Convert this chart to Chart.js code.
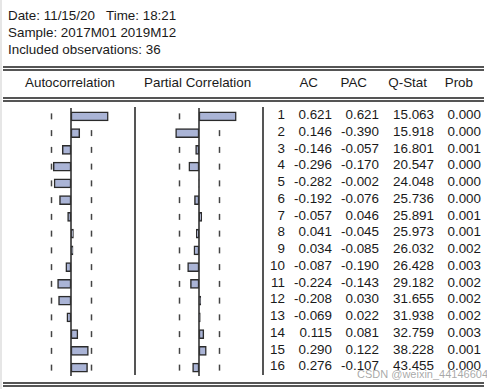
<!DOCTYPE html>
<html>
<head>
<meta charset="utf-8">
<script src="https://cdn.jsdelivr.net/npm/chart.js@4/dist/chart.umd.min.js"></script>
<style>
  body { margin: 0; background: #fff; }
  #page { position: relative; width: 487px; height: 389px; overflow: hidden;
          font-family: "Liberation Sans", Arial, sans-serif; font-size: 13.4px; color: #1a1a1a; }
  .abs { position: absolute; white-space: nowrap; line-height: 17px; }
  .dbl { position: absolute; left: 3px; width: 481px; height: 1px;
         border-top: 2px solid #555; border-bottom: 2px solid #555; }
  .vline { position: absolute; top: 107px; height: 268px; width: 0; border-left: 2px solid #555; }
  .chartbox { position: absolute; top: 108px; width: 120px; height: 268px; }
  .r { text-align: right; }
  #edge { position: absolute; left: 0; top: 0; width: 2px; height: 389px; background: #e6e6e6; }
  #wm { position: absolute; left: 357px; top: 366px; font-size: 11px; color: rgba(140,140,140,0.75);
        line-height: 16px; white-space: nowrap; }
</style>
</head>
<body>
<div id="page">
  <div id="edge"></div>
  <div class="abs" style="left:8px;top:7px">Date: 11/15/20&nbsp;&nbsp;&nbsp;Time: 18:21</div>
  <div class="abs" style="left:8px;top:24px">Sample: 2017M01 2019M12</div>
  <div class="abs" style="left:8px;top:41px">Included observations: 36</div>

  <div class="dbl" style="top:66px"></div>
  <div class="abs" style="left:25px;top:74px">Autocorrelation</div>
  <div class="abs" style="left:144px;top:74px">Partial Correlation</div>
  <div class="abs r" style="right:169px;top:74px">AC</div>
  <div class="abs r" style="right:120px;top:74px">PAC</div>
  <div class="abs r" style="right:60px;top:74px">Q-Stat</div>
  <div class="abs r" style="right:14px;top:74px">Prob</div>
  <div class="dbl" style="top:97px"></div>

  <div class="vline" style="left:134px"></div>
  <div class="vline" style="left:262px"></div>

  <div class="chartbox" style="left:11px"><canvas id="acChart" width="120" height="268"></canvas></div>
  <div class="chartbox" style="left:139px"><canvas id="pacChart" width="120" height="268"></canvas></div>

  <div id="table"></div>
  <div id="wm">CSDN @weixin_44146604</div>

  <div class="dbl" style="top:382px"></div>
</div>

<script>
// Correlogram values
const lags = [1, 2, 3, 4, 5, 6, 7, 8, 9, 10, 11, 12, 13, 14, 15, 16];
const acValues = [0.621, 0.146, -0.146, -0.296, -0.282, -0.192, -0.057, 0.041, 0.034, -0.087, -0.224, -0.208, -0.069, 0.115, 0.290, 0.276];
const pacValues = [0.621, -0.390, -0.057, -0.170, -0.002, -0.076, 0.046, -0.045, -0.085, -0.190, -0.143, 0.030, 0.022, 0.081, 0.122, -0.107];
const qStat = [15.063, 15.918, 16.801, 20.547, 24.048, 25.736, 25.891, 25.973, 26.032, 26.428, 29.182, 31.655, 31.938, 32.759, 38.228, 43.455];
const prob = [0.000, 0.000, 0.001, 0.000, 0.000, 0.000, 0.001, 0.001, 0.002, 0.003, 0.002, 0.002, 0.002, 0.003, 0.001, 0.000];
const observations = 36;
const bound = 2 / Math.sqrt(observations);

// Dashed +-2/sqrt(n) marks behind the bars, zero line on top
const bandPlugin = {
    id: 'band',
    beforeDatasetsDraw(chart) {
        const ctx = chart.ctx;
        const x = chart.scales.x;
        const y = chart.scales.y;
        ctx.save();
        ctx.strokeStyle = '#444';
        ctx.lineWidth = 1.5;
        lags.forEach((lag, i) => {
            const cy = y.getPixelForValue(i);
            [-bound, bound].forEach(b => {
                const bx = Math.round(x.getPixelForValue(b)) + 0.5;
                ctx.beginPath();
                ctx.moveTo(bx, cy - 3);
                ctx.lineTo(bx, cy + 3);
                ctx.stroke();
            });
        });
        ctx.restore();
    },
    afterDatasetsDraw(chart) {
        const ctx = chart.ctx;
        const zx = chart.scales.x.getPixelForValue(0);
        ctx.save();
        ctx.strokeStyle = '#333';
        ctx.lineWidth = 1.6;
        ctx.beginPath();
        ctx.moveTo(zx, chart.chartArea.top - 1);
        ctx.lineTo(zx, chart.chartArea.bottom);
        ctx.stroke();
        ctx.restore();
    }
};

function makeChart(id, values) {
    return new Chart(document.getElementById(id), {
        type: 'bar',
        data: {
            labels: lags.map(String),
            datasets: [{
                data: values,
                backgroundColor: '#aab4d6',
                borderColor: '#2b2b2b',
                borderWidth: 1.5,
                barThickness: 9,
                borderSkipped: false
            }]
        },
        options: {
            indexAxis: 'y',
            responsive: false,
            animation: false,
            layout: { padding: 0 },
            plugins: { legend: { display: false }, tooltip: { enabled: false } },
            scales: {
                x: { display: false, min: -1, max: 1 },
                y: { display: false, offset: true }
            }
        },
        plugins: [bandPlugin]
    });
}

makeChart('acChart', acValues);
makeChart('pacChart', pacValues);

// Numeric table on the right
const table = document.getElementById('table');
const rowH = 16.75;
const cols = [
    { right: 487 - 285, text: i => String(lags[i]) },
    { right: 487 - 332, text: i => acValues[i].toFixed(3) },
    { right: 487 - 379, text: i => pacValues[i].toFixed(3) },
    { right: 487 - 434, text: i => qStat[i].toFixed(3) },
    { right: 487 - 481, text: i => prob[i].toFixed(3) }
];
lags.forEach((lag, i) => {
    const top = 106 + i * rowH;
    cols.forEach(c => {
        const d = document.createElement('div');
        d.className = 'abs r';
        d.style.right = c.right + 'px';
        d.style.top = top + 'px';
        d.textContent = c.text(i);
        table.appendChild(d);
    });
});
</script>
</body>
</html>
